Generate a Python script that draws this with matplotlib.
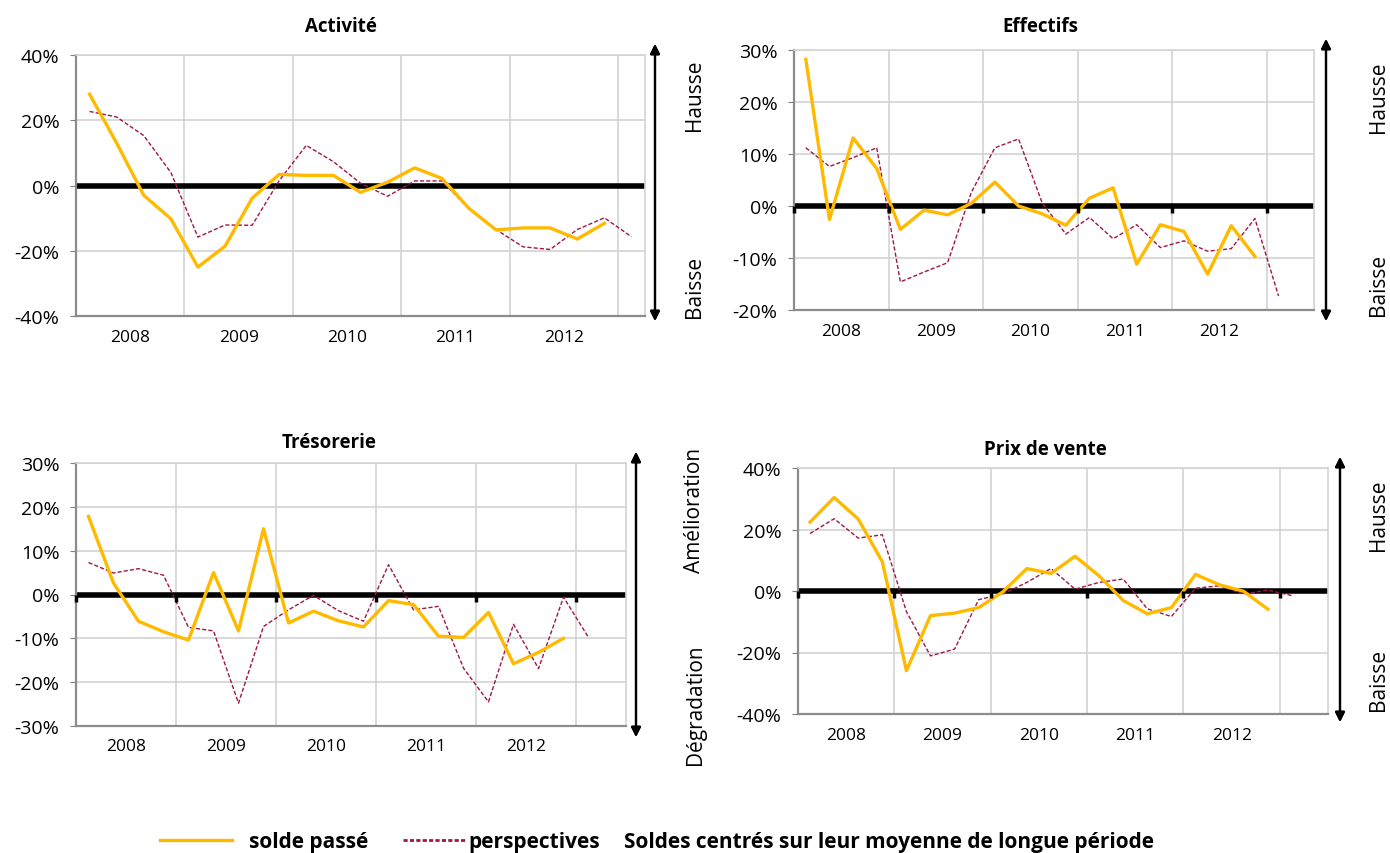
"""
Soldes d'opinion : activité, effectifs, trésorerie, prix de vente (2008-2012).
"""
import logging
import matplotlib
matplotlib.use('Agg')
import matplotlib.pyplot as plt
from matplotlib.lines import Line2D
from matplotlib.ticker import FuncFormatter

logging.getLogger('matplotlib.font_manager').setLevel(logging.ERROR)

# Data (quarterly balances, 2008 Q1 onward)
years = ['2008', '2009', '2010', '2011', '2012']

activite_passe = [28, 13, -3, -10.2, -25, -18.6, -3.9, 3.4, 3.1, 3.1,
                  -2.1, 1, 5.4, 2.2, -7, -13.6, -13, -13, -16.4, -11.6]
activite_persp = [22.7, 21, 15.3, 4, -15.8, -12.1, -12.2, 1.5, 12.3, 7.3,
                  0.7, -3.3, 1.4, 1.4, -7.1, -13.5, -18.8, -19.6, -13.5, -9.9, -15.7]

effectifs_passe = [28.2, -2.6, 13.1, 7.2, -4.5, -0.8, -1.7, 0.5, 4.6, 0,
                   -1.5, -3.7, 1.5, 3.5, -11.2, -3.6, -4.9, -13.1, -3.8, -9.7]
effectifs_persp = [11.2, 7.6, 9.3, 11.2, -14.6, -12.7, -10.9, 2.6, 11.2, 12.9,
                   0.6, -5.4, -2.2, -6.3, -3.6, -8, -6.7, -8.7, -8.2, -2.4, -17.3]

tresorerie_passe = [17.8, 2.6, -6.1, -8.5, -10.4, 5, -8.3, 15, -6.5, -3.8,
                    -6, -7.4, -1.4, -2.3, -9.5, -9.8, -4.1, -15.8, -13.2, -10]
tresorerie_persp = [7.3, 4.9, 5.9, 4.4, -7.5, -8.3, -24.8, -7.3, -3.5, -0.2,
                    -3.7, -6.1, 6.8, -3.5, -2.7, -16.8, -24.5, -6.8, -16.9, -0.6, -9.8]

prix_passe = [22.4, 30.4, 23.4, 9.5, -25.9, -8, -7.2, -5.4, -0.3, 7.3,
              5.7, 11.3, 4.9, -3.1, -7.4, -5.4, 5.4, 2, -0.1, -5.9]
prix_persp = [18.7, 23.5, 17.2, 18.3, -6.7, -21.1, -18.9, -2.8, -1, 2.8,
              7.3, 0.6, 2.8, 3.9, -5.8, -8.3, 0.9, 1.7, -1, 0.3, -1.5]

W, H = 1390, 854
ORANGE = '#FFBA00'
MAROON = '#9E1747'
GRID = '#D3D3D3'

plt.rcParams['font.family'] = ['Open Sans', 'DejaVu Sans']


def px(x, y, w, h):
    """Convert image pixel box (top-left origin) to figure fractions."""
    return [x / W, 1 - (y + h) / H, w / W, h / H]


def draw_panel(fig, box, title, title_xy, passe, persp, nquarters, yticks,
               year_ticks=True):
    ax = fig.add_axes(px(*box))
    xs_passe = [i + 0.5 for i in range(len(passe))]
    xs_persp = [i + 0.5 for i in range(len(persp))]

    ax.axhline(0, color='black', lw=4, zorder=2)
    ax.plot(xs_persp, persp, color=MAROON, lw=1.0, ls=(0, (3, 1.5)), zorder=3)
    ax.plot(xs_passe, passe, color=ORANGE, lw=2.4, zorder=4)

    year_edges = list(range(0, 4 * len(years) + 1, 4))
    if year_ticks:
        ax.plot(year_edges, [0] * len(year_edges), ls='none', marker=3,
                markersize=5, markeredgewidth=2.5, color='black', zorder=5,
                clip_on=False)

    ax.set_xlim(0, nquarters)
    ax.set_ylim(yticks[0], yticks[-1])
    ax.set_yticks(yticks)
    ax.yaxis.set_major_formatter(FuncFormatter(lambda v, _: f'{v:.0f}%'))
    ax.set_xticks(year_edges, minor=False)
    ax.set_xticklabels([])
    ax.set_xticks([e + 2 for e in year_edges[:-1]], minor=True)
    ax.set_xticklabels(years, minor=True)
    ax.tick_params(axis='x', which='both', length=0, pad=9, labelsize=12.5)
    ax.tick_params(axis='y', length=4, color='#808080', pad=8, labelsize=14)

    ax.grid(True, which='major', color=GRID, lw=1.2)
    ax.set_axisbelow(True)
    for side in ['top', 'right']:
        ax.spines[side].set_color(GRID)
        ax.spines[side].set_linewidth(1.2)
    for side in ['left', 'bottom']:
        ax.spines[side].set_color('#8C8C8C')
        ax.spines[side].set_linewidth(1.6)

    fig.text(title_xy[0] / W, 1 - title_xy[1] / H, title, fontsize=13.5,
             fontweight='bold', ha='center', va='center')
    return ax


def side_arrow(fig, x, ytop, ybot, top_label, top_y, bot_label, bot_y, label_x):
    fig.add_artist(plt.annotate(
        '', xy=(x, H - ytop), xytext=(x, H - ybot), xycoords='figure pixels',
        textcoords='figure pixels',
        arrowprops=dict(arrowstyle='<|-|>', lw=1.6, color='black',
                        mutation_scale=14, shrinkA=0, shrinkB=0)))
    for text, ty in [(top_label, top_y), (bot_label, bot_y)]:
        fig.text(label_x / W, 1 - ty / H, text, rotation=90, fontsize=15,
                 ha='center', va='center')


fig = plt.figure(figsize=(W / 100, H / 100), dpi=100)

draw_panel(fig, (76, 56, 569, 261), 'Activité', (341, 27),
           activite_passe, activite_persp, 21, [-40, -20, 0, 20, 40],
           year_ticks=False)
draw_panel(fig, (794, 51, 520, 260), 'Effectifs', (1040, 27),
           effectifs_passe, effectifs_persp, 22, [-20, -10, 0, 10, 20, 30])
draw_panel(fig, (76, 464, 550, 263), 'Trésorerie', (329, 443),
           tresorerie_passe, tresorerie_persp, 22, [-30, -20, -10, 0, 10, 20, 30])
draw_panel(fig, (798, 469, 530, 246), 'Prix de vente', (1045, 450),
           prix_passe, prix_persp, 22, [-40, -20, 0, 20, 40])

side_arrow(fig, 655, 45, 322, 'Hausse', 95, 'Baisse', 287, 695)
side_arrow(fig, 1326, 40, 322, 'Hausse', 97, 'Baisse', 285, 1378)
side_arrow(fig, 636, 453, 738, 'Amélioration', 510, 'Dégradation', 705, 695)
side_arrow(fig, 1340, 458, 723, 'Hausse', 515, 'Baisse', 680, 1378)

# Legend: two separate pieces plus a free text note
legend_font = dict(weight='bold', size=15)
fig.legend([Line2D([], [], color=ORANGE, lw=2.4)], ['solde passé'],
           frameon=False, loc='center left', prop=legend_font,
           bbox_to_anchor=(141 / W, 1 - 843 / H), handlelength=3.45,
           handletextpad=0.85)
fig.legend([Line2D([], [], color=MAROON, lw=2.0, ls=(0, (1.5, 0.8)))],
           ['perspectives'], frameon=False, loc='center left',
           prop=legend_font, bbox_to_anchor=(384 / W, 1 - 843 / H),
           handlelength=3.0, handletextpad=0.15)
fig.text(624 / W, 1 - 843 / H, 'Soldes centrés sur leur moyenne de longue période',
         fontsize=15, fontweight='bold', va='center', ha='left')

fig.savefig('out.png', dpi=100)
